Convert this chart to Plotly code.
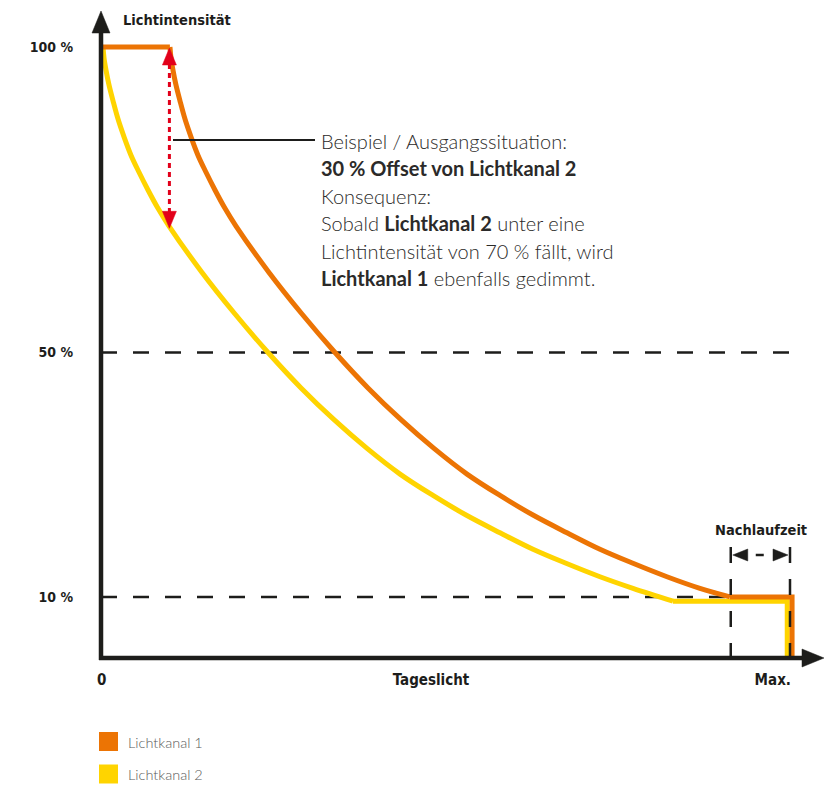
import plotly.graph_objects as go

# ---------------- data ----------------
# x: 0 = no daylight ... 100 = "Max."   y: light intensity in %
lk1_flat_x = [0.0, 10.0]
lk1_flat_y = [100, 100]
lk1_curve_x = [10.01, 10.16, 10.45, 10.88, 11.46, 12.19, 13.06, 14.07, 15.24, 16.54, 17.99,
               19.59, 24.38, 29.17, 33.96, 38.75, 43.54, 48.33, 53.12, 57.91, 62.70,
               67.63, 72.42, 77.21, 82.14, 86.93, 91.29]
lk1_curve_y = [100, 98.2, 96.2, 93.8, 91.2, 88.2, 85.3, 82.3, 79.5, 76.6, 73.6,
               70.7, 63.1, 56.3, 50.0, 44.2, 39.0, 34.3, 30.1, 26.6, 23.4,
               20.5, 17.8, 15.5, 13.3, 11.4, 10.0]
lk1_end_x = [91.29, 100.3, 100.3]
lk1_end_y = [10.0, 10.0, 0.0]

lk2_curve_x = [0.29, 0.44, 0.73, 1.16, 1.74, 2.47, 3.34, 4.35, 5.52, 6.82, 8.27, 9.87,
               14.66, 19.45, 24.24, 29.03, 33.82, 38.61, 43.40, 48.19, 52.98, 57.91,
               62.70, 67.49, 72.42, 77.21, 83.02]
lk2_curve_y = [100, 98.2, 96.2, 93.8, 91.2, 88.2, 85.3, 82.3, 79.5, 76.6, 73.6, 70.7,
               63.1, 56.3, 50.0, 44.2, 39.0, 34.3, 30.1, 26.6, 23.4, 20.5,
               17.8, 15.5, 13.3, 11.4, 9.3]
lk2_end_x = [83.02, 99.6, 99.6]
lk2_end_y = [9.3, 9.3, 0.0]

y_tick_vals = [10, 50, 100]
y_tick_text = ["10 %", "50 %", "100 %"]
x_tick_vals = [0.1, 47.9, 97.5]
x_tick_text = ["0", "Tageslicht", "Max."]
grid_levels = [50, 10]

offset_x = 10.0            # position of the red offset arrow
offset_from, offset_to = 100, 70
nachlauf_start, nachlauf_end = 91.4, 100.0

series_names = ["Lichtkanal 1", "Lichtkanal 2"]
ORANGE = "#EC7404"
YELLOW = "#FFD400"
RED = "#E2001A"
INK = "#1D1D1B"

# ---------------- geometry helpers (reference pixel -> data / paper) ----------------
BODY = 8                      # page body margin of the browser
W, H = 835 - BODY, 787 - BODY
X0REF, Y0REF = 101, 658       # reference pixel of the origin
L = X0REF - BODY
B = H - (Y0REF - BODY)
R, T = 0, 0
PW, PH = W - L - R, H - T - B
SX = 6.89   # px per x unit
SY = 6.11   # px per y unit
X_MAX = PW / SX
Y_MAX = PH / SY


def dx(px):
    return (px - X0REF) / SX


def dy(py):
    return (Y0REF - py) / SY


def ppx(px):
    return (px - X0REF) / PW


def ppy(py):
    return (Y0REF - py) / PH


def ref_of(xv, yv):
    return X0REF + xv * SX, Y0REF - yv * SY


COND = "DejaVu Sans Condensed, Liberation Sans Narrow, sans-serif"
TEXT = "Lato, Noto Sans, sans-serif"

fig = go.Figure()

# yellow (Lichtkanal 2) first, orange on top
for xs, ys, shape in [(lk2_curve_x, lk2_curve_y, "spline"), (lk2_end_x, lk2_end_y, "linear")]:
    fig.add_trace(go.Scatter(x=xs, y=ys, mode="lines", line=dict(color=YELLOW, width=5, shape=shape),
                             showlegend=False, hoverinfo="skip"))
for xs, ys, shape in [(lk1_flat_x, lk1_flat_y, "linear"), (lk1_curve_x, lk1_curve_y, "spline"),
                      (lk1_end_x, lk1_end_y, "linear")]:
    fig.add_trace(go.Scatter(x=xs, y=ys, mode="lines", line=dict(color=ORANGE, width=5, shape=shape),
                             showlegend=False, hoverinfo="skip"))

shapes = []
# dashed reference levels
for lv, xend in zip(grid_levels, [dx(795), dx(790)]):
    shapes.append(dict(type="line", xref="x", yref="y", x0=0, x1=xend, y0=lv, y1=lv,
                       line=dict(color=INK, width=2.5, dash="16px,16px"), layer="below"))
# Nachlaufzeit verticals
for xv in [nachlauf_start, nachlauf_end]:
    shapes.append(dict(type="line", xref="x", yref="y", x0=xv, x1=xv, y0=dy(547), y1=0,
                       line=dict(color=INK, width=2.5, dash="16px,16px"), layer="above"))
# Nachlaufzeit bracket
yb = dy(555)
xl, _ = ref_of(nachlauf_start, 0)
xr, _ = ref_of(nachlauf_end, 0)
shapes.append(dict(type="line", xref="x", yref="y", x0=dx(xl + 25), x1=dx(xl + 33), y0=yb, y1=yb,
                   line=dict(color=INK, width=2.5)))


def tri(p1, p2, p3, xref, yref, color):
    if xref == "paper":
        pts = [(ppx(a), ppy(b)) for a, b in (p1, p2, p3)]
    else:
        pts = [(dx(a), dy(b)) for a, b in (p1, p2, p3)]
    path = "M {} {} L {} {} L {} {} Z".format(*[c for p in pts for c in p])
    return dict(type="path", xref=xref, yref=yref, path=path, fillcolor=color,
                line=dict(color=color, width=0.5), layer="above")


shapes.append(tri((xl + 2, 555), (xl + 17, 549), (xl + 17, 561), "x", "y", INK))
shapes.append(tri((xr - 2, 555), (xr - 17, 549), (xr - 17, 561), "x", "y", INK))

# red offset arrow
ax_px, top_py = ref_of(offset_x, offset_from)
_, bot_py = ref_of(offset_x, offset_to)
ax_px += -0.5
shapes.append(dict(type="line", xref="x", yref="y", x0=dx(ax_px), x1=dx(ax_px),
                   y0=dy(top_py + 17), y1=dy(bot_py - 16),
                   line=dict(color=RED, width=3, dash="5px,4px"), layer="above"))
shapes.append(tri((ax_px, top_py + 1), (ax_px - 7, top_py + 18), (ax_px + 7, top_py + 18), "x", "y", RED))
shapes.append(tri((ax_px, bot_py - 2), (ax_px - 7, bot_py - 19), (ax_px + 7, bot_py - 19), "x", "y", RED))

# callout line
shapes.append(dict(type="line", xref="x", yref="y", x0=dx(173), x1=dx(315), y0=dy(140), y1=dy(140),
                   line=dict(color=INK, width=2)))

# axes with arrows (paper coordinates)
shapes.append(dict(type="line", xref="paper", yref="paper", x0=ppx(101), x1=ppx(101),
                   y0=ppy(660), y1=ppy(30), line=dict(color=INK, width=4.5), layer="above"))
shapes.append(dict(type="line", xref="paper", yref="paper", x0=ppx(99), x1=ppx(806),
                   y0=ppy(658), y1=ppy(658), line=dict(color=INK, width=4.5), layer="above"))
shapes.append(tri((101, 11), (92, 33), (110, 33), "paper", "paper", INK))
shapes.append(tri((824, 658), (802, 649), (802, 667), "paper", "paper", INK))

# legend swatches
for i, col in enumerate([ORANGE, YELLOW]):
    y0 = 732 + i * 32.5
    shapes.append(dict(type="rect", xref="paper", yref="paper", x0=ppx(99), x1=ppx(118),
                       y0=ppy(y0), y1=ppy(y0 + 19), fillcolor=col, line=dict(width=0)))

annotations = []
annotations.append(dict(text="<b>Lichtintensität</b>", xref="paper", yref="paper",
                        x=ppx(177), y=ppy(20), showarrow=False, xanchor="center", yanchor="middle",
                        font=dict(family=COND, size=14.5, color=INK)))
annotations.append(dict(text="<b>Nachlaufzeit</b>", xref="x", yref="y",
                        x=dx(761), y=dy(530), showarrow=False, xanchor="center", yanchor="middle",
                        font=dict(family=COND, size=14.5, color=INK)))

text_lines = [
    "Beispiel / Ausgangssituation:",
    "<b>30 % Offset von Lichtkanal 2</b>",
    "Konsequenz:",
    "Sobald <b>Lichtkanal 2</b> unter eine",
    "Lichtintensität von 70 % fällt, wird",
    "<b>Lichtkanal 1</b> ebenfalls gedimmt.",
]
for i, t in enumerate(text_lines):
    annotations.append(dict(text=t, xref="x", yref="y", x=dx(319), y=dy(141 + i * 27.4),
                            showarrow=False, xanchor="left", yanchor="middle",
                            font=dict(family=TEXT, size=20, color="#2B2A29", weight=300)))

for i, name in enumerate(series_names):
    annotations.append(dict(text=name, xref="paper", yref="paper", x=ppx(126), y=ppy(742 + i * 32.5),
                            showarrow=False, xanchor="left", yanchor="middle",
                            font=dict(family=TEXT, size=14.5, color="#5a5a5a", weight=300)))

fig.update_layout(
    width=W, height=H,
    margin=dict(l=L, r=R, t=T, b=B, pad=0),
    paper_bgcolor="white", plot_bgcolor="white",
    showlegend=False,
    shapes=shapes,
    annotations=annotations,
    xaxis=dict(range=[0, X_MAX], showgrid=False, zeroline=False, showline=False,
               tickvals=x_tick_vals, ticktext=x_tick_text, ticks="",
               ticklabelstandoff=11,
               tickfont=dict(family=COND, size=15, color=INK, weight="bold")),
    yaxis=dict(range=[0, Y_MAX], showgrid=False, zeroline=False, showline=False,
               tickvals=y_tick_vals, ticktext=y_tick_text, ticks="",
               ticklabelstandoff=27,
               tickfont=dict(family=COND, size=14, color=INK, weight="bold")),
)

fig.write_html("out.html")
